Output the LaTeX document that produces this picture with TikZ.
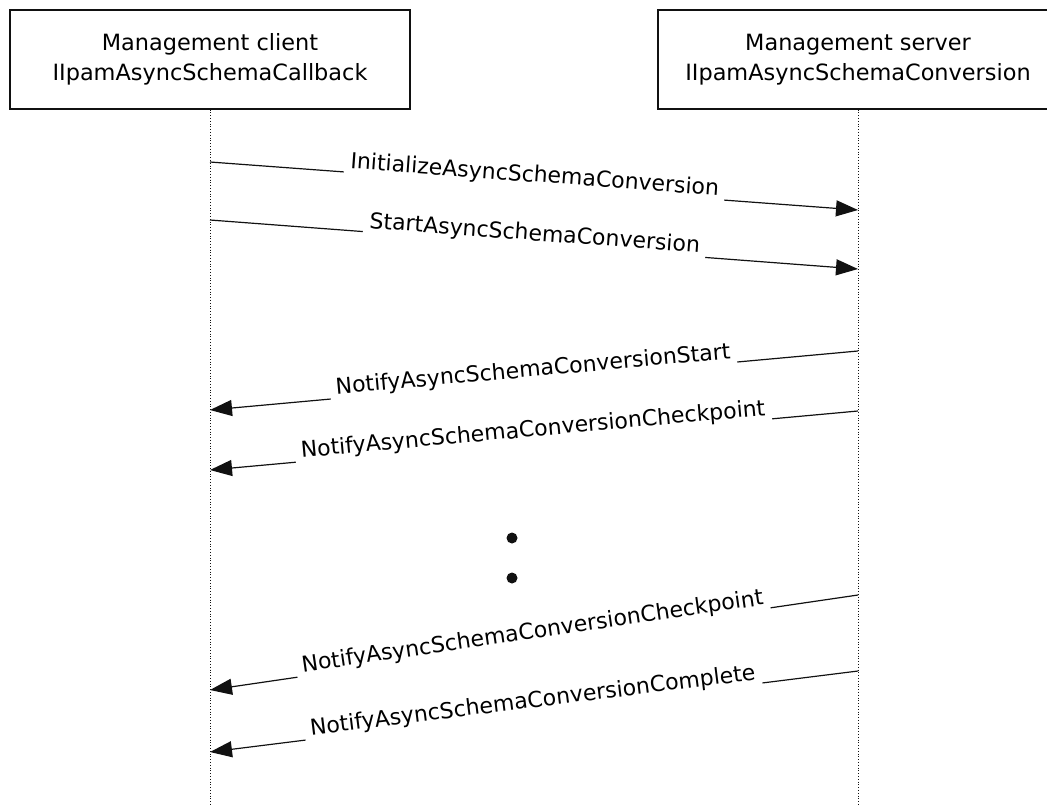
\documentclass[tikz,border=0pt]{standalone}
\usepackage{fontspec}
\setmainfont{DejaVu Sans}
\usetikzlibrary{arrows.meta,positioning}
\definecolor{ink}{HTML}{111111}
\tikzset{
  actor/.style={
    draw=ink,fill=white,line width=1.1pt,
    minimum width=400pt,minimum height=99pt,
    align=center,font=\fontsize{22.4}{30}\selectfont
  },
  lifeline/.style={draw=ink,line width=.8pt,dotted},
  msg/.style={-{Triangle[length=22pt,width=16pt]},draw=ink,line width=1.2pt},
  msglabel/.style={sloped,midway,anchor=base,yshift=4pt,fill=white,inner sep=6pt,
    font=\fontsize{22}{26}\selectfont},
  dot/.style={circle,fill=ink,inner sep=0pt,minimum size=11pt}
}
\begin{document}
\begin{tikzpicture}[x=1pt,y=-1pt]
\clip (0,0) rectangle (1047,804);

\node[actor] (client) at (210,59.5)
{Management client\\
IIpamAsyncSchemaCallback};

\node[actor] (server) at (858,59.5)
{Management server\\
IIpamAsyncSchemaConversion};

% lifelines
\coordinate (clientend) at (210,804);
\coordinate (serverend) at (858,804);
\draw[lifeline] (client.south) -- (clientend);
\draw[lifeline] (server.south) -- (serverend);

% message ends
\coordinate (init1) at (210,162);
\coordinate (init2) at (858,210);
\coordinate (start1) at (210,220);
\coordinate (start2) at (858,269);
\coordinate (nstart1) at (858,351);
\coordinate (nstart2) at (210,410);
\coordinate (ncheck1) at (858,411);
\coordinate (ncheck2) at (210,470);
\coordinate (nlast1) at (858,595);
\coordinate (nlast2) at (210,690);
\coordinate (ndone1) at (858,671);
\coordinate (ndone2) at (210,752);

\draw[msg] (init1) -- node[msglabel] {InitializeAsyncSchemaConversion} (init2);
\draw[msg] (start1) -- node[msglabel] {StartAsyncSchemaConversion} (start2);
\draw[msg] (nstart1) -- node[msglabel] {NotifyAsyncSchemaConversionStart} (nstart2);
\draw[msg] (ncheck1) -- node[msglabel] {NotifyAsyncSchemaConversionCheckpoint} (ncheck2);
\draw[msg] (nlast1) -- node[msglabel] {NotifyAsyncSchemaConversionCheckpoint} (nlast2);
\draw[msg] (ndone1) -- node[msglabel] {NotifyAsyncSchemaConversionComplete} (ndone2);

% ellipsis
\node[dot] (dotup) at (512,538) {};
\node[dot] (dotdown) at (512,578) {};
\end{tikzpicture}
\end{document}
